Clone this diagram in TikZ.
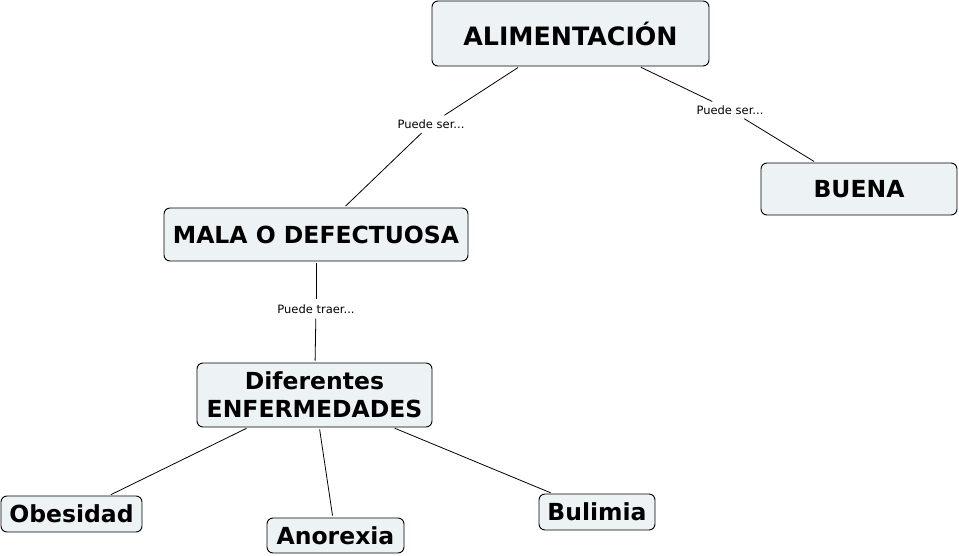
\documentclass[tikz,border=0pt]{standalone}
\usepackage{fontspec}
\setmainfont{DejaVu Sans}
\usepackage{tikz}

\definecolor{conceptfill}{RGB}{237,243,245}

\tikzset{
  concept/.style={draw, line width=0.9pt, rounded corners=6pt, fill=conceptfill,
    font=\bfseries\fontsize{23.5}{28}\selectfont, align=center, inner sep=2pt},
  linkphrase/.style={font=\fontsize{11.5}{13}\selectfont, inner sep=3pt},
  link/.style={line width=0.8pt, shorten >=2pt, shorten <=2pt}
}

\begin{document}
\begin{tikzpicture}[x=1pt,y=-1pt]
  \useasboundingbox (0,0) rectangle (959,556);
  \node (alim)  at (570.5,33.5) [concept, minimum width=277, minimum height=65,
    font=\bfseries\fontsize{25.3}{30}\selectfont] {ALIMENTACIÓN};
  \node (buena) at (859,189)    [concept, minimum width=196, minimum height=52] {BUENA};
  \node (mala)  at (316,234.5)  [concept, minimum width=304, minimum height=53] {MALA O DEFECTUOSA};
  \node (enf)   at (314.5,395)  [concept, minimum width=235, minimum height=64] {Diferentes\\ENFERMEDADES};
  \node (obes)  at (71.5,514)   [concept, minimum width=141, minimum height=36] {Obesidad};
  \node (anor)  at (335.5,535.5) [concept, minimum width=137, minimum height=35] {Anorexia};
  \node (buli)  at (597,512)    [concept, minimum width=116, minimum height=36] {Bulimia};

  \node (serA)  at (431,124) [linkphrase] {Puede ser...};
  \node (serB)  at (730,110) [linkphrase] {Puede ser...};
  \node (traer) at (316,309) [linkphrase] {Puede traer...};

  \draw[link] (alim) -- (serA);
  \draw[link] (serA) -- (mala);
  \draw[link] (alim) -- (serB);
  \draw[link] (serB) -- (buena);
  \draw[link] (mala) -- (traer);
  \draw[link] (traer) -- (enf);
  \draw[link] (enf) -- (obes);
  \draw[link] (enf) -- (anor);
  \draw[link] (enf) -- (buli);
\end{tikzpicture}
\end{document}
